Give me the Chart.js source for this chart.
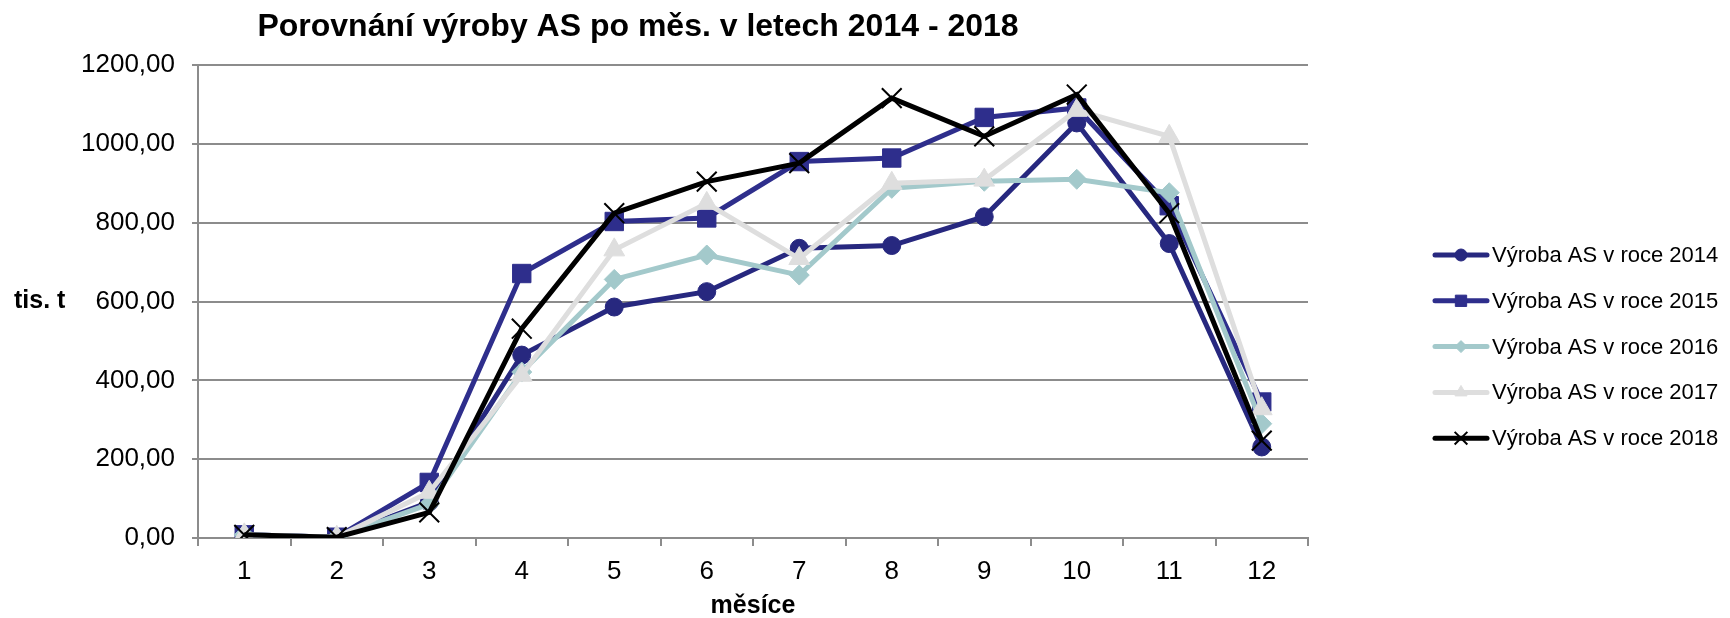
<!DOCTYPE html>
<html>
<head>
<meta charset="utf-8">
<script src="https://cdn.jsdelivr.net/npm/chart.js@4/dist/chart.umd.min.js"></script>
<style>
  html, body { margin: 0; padding: 0; background: #fff; }
  #wrap { width: 1730px; height: 618px; }
</style>
</head>
<body>
<div id="wrap"><canvas id="myChart" width="1730" height="618"></canvas></div>
<script>
// months
const months = ['1', '2', '3', '4', '5', '6', '7', '8', '9', '10', '11', '12'];

// production, thousand tonnes
const y2014 = [8, 2, 91, 464, 586, 625, 735, 742, 815, 1053, 747, 231];
const y2015 = [8, 2, 141, 671, 803, 812, 955, 964, 1067, 1091, 843, 345];
const y2016 = [8, 2, 86, 421, 656, 718, 667, 887, 905, 910, 876, 290];
const y2017 = [8, 2, 116, 413, 731, 849, 709, 900, 908, 1085, 1019, 328];
const y2018 = [8, 2, 65, 531, 824, 904, 951, 1116, 1019, 1125, 824, 247];

const seriesNames = ['Výroba AS v roce 2014', 'Výroba AS v roce 2015', 'Výroba AS v roce 2016',
                     'Výroba AS v roce 2017', 'Výroba AS v roce 2018'];

const chartTitle = 'Porovnání výroby AS po měs. v letech 2014 - 2018';
const yTitle = 'tis. t';
const xTitle = 'měsíce';

const FONT = '"Liberation Sans", Arial, sans-serif';
const gridGray = '#8c8c8c';

function ds(label, data, color, style, radius, order, pbw) {
  return {
    label: label,
    data: data,
    borderColor: color,
    backgroundColor: color,
    borderWidth: 5,
    tension: 0,
    pointStyle: style,
    pointRadius: radius,
    pointHoverRadius: radius,
    pointBackgroundColor: color,
    pointBorderColor: color,
    pointBorderWidth: pbw || 1,
    order: order,
    fill: false
  };
}

const legendMarkers = [
  {style: 'circle', r: 6}, {style: 'rect', r: 8}, {style: 'rectRot', r: 6},
  {style: 'triangle', r: 7}, {style: 'crossRot', r: 9}
];

const textPlugin = {
  id: 'texts',
  afterDraw(chart) {
    const ctx = chart.ctx;
    const area = chart.chartArea;
    const ys = chart.scales.y;
    ctx.save();
    ctx.fillStyle = '#000';
    ctx.textBaseline = 'middle';
    // title
    ctx.font = 'bold 32px ' + FONT;
    ctx.textAlign = 'center';
    ctx.fillText(chartTitle, 638, 27);
    // x title
    ctx.font = 'bold 25px ' + FONT;
    ctx.fillText(xTitle, (area.left + area.right) / 2, 606);
    // y title
    ctx.textAlign = 'left';
    ctx.fillText(yTitle, 14, ys.getPixelForValue(600));
    // legend
    ctx.font = '22px ' + FONT;
    chart.data.datasets.forEach((d, i) => {
      const y = 255 + i * 45.8;
      ctx.strokeStyle = d.borderColor;
      ctx.lineWidth = 5;
      ctx.lineCap = 'round';
      ctx.beginPath();
      ctx.moveTo(1435, y);
      ctx.lineTo(1487, y);
      ctx.stroke();
      ctx.fillStyle = d.borderColor;
      ctx.lineWidth = i === 4 ? 2 : 1;
      ctx.lineCap = 'butt';
      Chart.helpers.drawPoint(ctx, {pointStyle: legendMarkers[i].style, radius: legendMarkers[i].r, rotation: 0, borderWidth: ctx.lineWidth}, 1461, y);
      ctx.fillStyle = '#000';
      ctx.fillText(d.label, 1492, y + 1);
    });
    ctx.restore();
  }
};

new Chart('myChart', {
  type: 'line',
  data: {
    labels: months,
    datasets: [
      ds(seriesNames[0], y2014, '#27287f', 'circle', 9, 4),
      ds(seriesNames[1], y2015, '#2e2e8c', 'rect', 13, 3),
      ds(seriesNames[2], y2016, '#a3c9cb', 'rectRot', 10, 2),
      ds(seriesNames[3], y2017, '#dedede', 'triangle', 12, 1),
      ds(seriesNames[4], y2018, '#000000', 'crossRot', 14, 0, 2)
    ]
  },
  options: {
    responsive: false,
    animation: false,
    devicePixelRatio: 1,
    layout: { padding: { top: 65, right: 422, left: 0, bottom: 0 } },
    plugins: {
      legend: { display: false },
      title: { display: false },
      tooltip: { enabled: false }
    },
    scales: {
      x: {
        offset: true,
        afterFit(s) { s.height = 80; },
        grid: {
          offset: true,
          drawOnChartArea: false,
          drawTicks: true,
          tickLength: 8,
          color: gridGray,
          lineWidth: 2
        },
        border: { color: gridGray, width: 2 },
        ticks: {
          color: '#000',
          padding: 10,
          font: { family: FONT, size: 26 },
          maxRotation: 0
        }
      },
      y: {
        min: 0,
        max: 1200,
        afterFit(s) { s.width = 198; },
        grid: {
          color: gridGray,
          lineWidth: 2,
          drawTicks: true,
          tickLength: 6
        },
        border: { color: gridGray, width: 2 },
        ticks: {
          stepSize: 200,
          color: '#000',
          padding: 17,
          font: { family: FONT, size: 26 },
          callback: (v) => v.toFixed(2).replace('.', ',')
        }
      }
    }
  },
  plugins: [textPlugin]
});
</script>
</body>
</html>
